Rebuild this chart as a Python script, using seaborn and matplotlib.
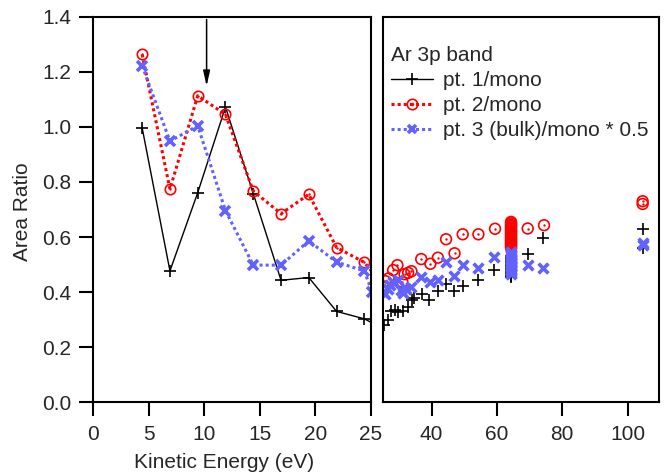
import matplotlib
matplotlib.use('Agg')
import matplotlib.pyplot as plt
from matplotlib.lines import Line2D
from matplotlib.legend_handler import HandlerTuple
import seaborn as sns

# low kinetic energy scan (left panel, drawn with lines)
ke_low = [4.4, 6.9, 9.4, 11.9, 14.4, 16.9, 19.4, 21.9, 24.4]
pt1_low = [0.996, 0.477, 0.761, 1.072, 0.758, 0.443, 0.453, 0.330, 0.303]
pt2_low = [1.263, 0.774, 1.113, 1.045, 0.767, 0.685, 0.755, 0.562, 0.508]
pt3_low = [1.222, 0.948, 1.004, 0.696, 0.498, 0.498, 0.586, 0.509, 0.477]

# higher kinetic energies (right panel, markers only); many repeats at 64.3 eV
ke_pt1 = [25.5, 26.7, 27.6, 28.8, 29.8, 31.3, 32.8, 33.9, 34.6, 36.9, 39.3, 42.0,
          44.4, 46.9, 49.5, 54.3, 59.2,
          64.3, 64.3, 64.3, 64.3, 64.3, 64.3, 64.3, 64.3,
          64.3, 64.3, 64.3, 64.3, 64.3, 64.3, 64.3, 64.3,
          69.4, 74.2, 104.6, 104.6]
pt1_high = [0.28, 0.298, 0.33, 0.335, 0.329, 0.33, 0.347, 0.371, 0.38, 0.395, 0.373, 0.403,
            0.431, 0.403, 0.422, 0.443, 0.48,
            0.455, 0.46, 0.465, 0.47, 0.475, 0.48, 0.485, 0.49,
            0.495, 0.50, 0.505, 0.51, 0.515, 0.52, 0.525, 0.53,
            0.538, 0.595, 0.63, 0.56]

ke_pt2 = [25.8, 26.8, 28.2, 29.5, 31.0, 31.7, 32.8, 33.8, 36.8, 39.6, 41.9,
          44.4, 47.0, 49.5, 54.3, 59.4,
          64.3, 64.3, 64.3, 64.3, 64.3, 64.3, 64.3, 64.3, 64.3, 64.3,
          64.3, 64.3, 64.3, 64.3, 64.3, 64.3, 64.3, 64.3, 64.3, 64.3,
          69.4, 74.4, 104.6, 104.6]
pt2_high = [0.44, 0.45, 0.48, 0.498, 0.437, 0.465, 0.47, 0.476, 0.52, 0.503, 0.525,
            0.592, 0.541, 0.61, 0.61, 0.63,
            0.56, 0.565, 0.57, 0.575, 0.58, 0.585, 0.59, 0.595, 0.60, 0.605,
            0.61, 0.615, 0.62, 0.625, 0.63, 0.635, 0.64, 0.645, 0.65, 0.655,
            0.631, 0.643, 0.72, 0.73]

ke_pt3 = [25.1, 25.7, 26.5, 27.2, 28.2, 29.7, 30.7, 31.3, 32.2, 33.8, 36.8, 39.4, 41.9,
          44.4, 46.9, 49.5, 54.3, 59.2,
          64.3, 64.3, 64.3, 64.3, 64.3, 64.3, 64.3, 64.3, 64.3,
          64.3, 64.3, 64.3, 64.3, 64.3, 64.3, 64.3, 64.3,
          69.4, 74.2, 104.6, 104.6]
pt3_high = [0.40, 0.395, 0.41, 0.425, 0.437, 0.443, 0.407, 0.397, 0.413, 0.419, 0.455, 0.437, 0.445,
            0.51, 0.458, 0.498, 0.488, 0.528,
            0.465, 0.47, 0.475, 0.48, 0.485, 0.49, 0.495, 0.50, 0.505,
            0.51, 0.515, 0.52, 0.525, 0.53, 0.535, 0.54, 0.545,
            0.498, 0.489, 0.57, 0.58]

labels = ['pt. 1/mono', 'pt. 2/mono', 'pt. 3 (bulk)/mono * 0.5']
BLUE = '#6262ff'
DOTS = (0, (1, 1))

sns.set_style('ticks')
plt.rcParams['font.family'] = ['Liberation Sans', 'DejaVu Sans']
plt.rcParams['axes.edgecolor'] = 'black'
plt.rcParams['axes.linewidth'] = 1.5

fig = plt.figure(figsize=(6.68, 4.76), dpi=100)
ax1 = fig.add_axes([93.3 / 668, 1 - 402.3 / 476, 277.7 / 668, 385.6 / 476])
ax2 = fig.add_axes([382.7 / 668, 1 - 402.3 / 476, 276.6 / 668, 385.6 / 476])

# left panel
sns.lineplot(x=ke_low + ke_pt1, y=pt1_low + pt1_high, ax=ax1, sort=False, estimator=None,
             color='black', lw=1, marker='+', ms=9, mew=1.2, markeredgecolor='black')
sns.lineplot(x=ke_low + ke_pt2, y=pt2_low + pt2_high, ax=ax1, sort=False, estimator=None,
             color='red', lw=2.2, linestyle=DOTS, marker='o', ms=7.5, mew=1.2,
             markeredgecolor='red', markerfacecolor='none')
sns.scatterplot(x=ke_low, y=pt2_low, ax=ax1, color='red', s=3, linewidth=0, zorder=3)
sns.lineplot(x=ke_low + ke_pt3, y=pt3_low + pt3_high, ax=ax1, sort=False, estimator=None,
             color=BLUE, lw=2.2, linestyle=DOTS, marker='x', ms=7, mew=2.6,
             markeredgecolor=BLUE)

ax1.annotate('', xy=(10.2, 1.148), xytext=(10.2, 1.39),
             arrowprops=dict(arrowstyle='-|>,head_length=0.9,head_width=0.2',
                             color='black', lw=1.1, shrinkA=0, shrinkB=0))

ax1.set_xlim(0, 25)
ax1.set_ylim(0, 1.4)
ax1.set_xticks([0, 5, 10, 15, 20, 25])
ax1.set_yticks([0.0, 0.2, 0.4, 0.6, 0.8, 1.0, 1.2, 1.4])
ax1.set_yticklabels(['0.0', '0.2', '0.4', '0.6', '0.8', '1.0', '1.2', '1.4'])
ax1.tick_params(direction='out', length=10, width=1.5, labelsize=15, pad=6, color='black')
ax1.set_xlabel('')
ax1.set_ylabel('')

# right panel
sns.scatterplot(x=ke_pt1, y=pt1_high, ax=ax2, color='black', marker='+', s=80, linewidth=1.2)
sns.scatterplot(x=ke_pt2, y=pt2_high, ax=ax2, color='red', marker='o', s=60,
                facecolor='none', edgecolor='red', linewidth=1.2)
sns.scatterplot(x=ke_pt2, y=pt2_high, ax=ax2, color='red', edgecolor='red', s=3, linewidth=0)
sns.scatterplot(x=ke_pt3, y=pt3_high, ax=ax2, color=BLUE, marker='x', s=50, linewidth=2.6)

ax2.set_xlim(25, 109.7)
ax2.set_ylim(0, 1.4)
ax2.set_xticks([40, 60, 80, 100])
ax2.set_yticks([])
ax2.tick_params(direction='out', length=10, width=1.5, labelsize=15, pad=6, color='black')
ax2.set_xlabel('')
ax2.set_ylabel('')

h1 = Line2D([], [], color='black', lw=1, marker='+', ms=9, mew=1.2)
h2 = (Line2D([], [], color='red', lw=2.2, ls=DOTS, marker='o', mfc='none', ms=7.5, mew=1.2),
      Line2D([], [], ls='none', marker='o', color='red', ms=1.5))
h3 = Line2D([], [], color=BLUE, lw=2.2, ls=DOTS, marker='x', ms=6, mew=2.6)
ax2.legend(handles=[h1, h2, h3], labels=labels, handler_map={tuple: HandlerTuple(ndivide=1)},
           title='Ar 3p band', loc='upper left', bbox_to_anchor=(0.03, 0.925),
           frameon=False, fontsize=15, title_fontsize=15, alignment='left',
           handlelength=2.0, handletextpad=0.5, labelspacing=0.3,
           borderpad=0, borderaxespad=0)

fig.text(224.5 / 668, 1 - 463 / 476, 'Kinetic Energy (eV)', ha='center', va='center', fontsize=15)
fig.text(22 / 668, 1 - 212 / 476, 'Area Ratio', ha='center', va='center', rotation=90, fontsize=15)

fig.savefig('out.png', dpi=100)
